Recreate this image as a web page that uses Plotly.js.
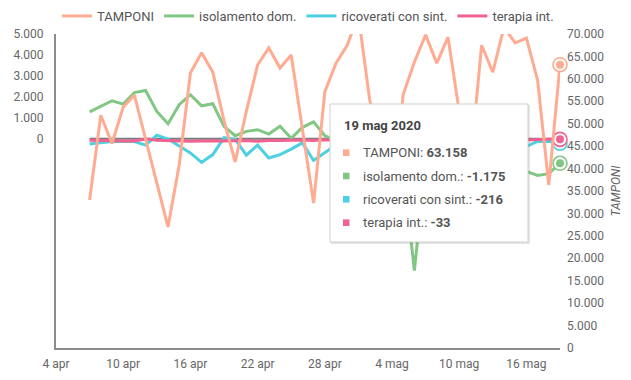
<!DOCTYPE html>
<html>
<head>
<meta charset="utf-8">
<script src="https://cdn.plot.ly/plotly-3.0.1.min.js"></script>
<style>html,body{margin:0;padding:0;background:#fff;}#chart{width:631px;height:380px;}</style>
</head>
<body>
<div id="chart"></div>
<script>
const dates = ['2020-04-07','2020-04-08','2020-04-09','2020-04-10','2020-04-11','2020-04-12','2020-04-13','2020-04-14','2020-04-15','2020-04-16','2020-04-17','2020-04-18','2020-04-19','2020-04-20','2020-04-21','2020-04-22','2020-04-23','2020-04-24','2020-04-25','2020-04-26','2020-04-27','2020-04-28','2020-04-29','2020-04-30','2020-05-01','2020-05-02','2020-05-03','2020-05-04','2020-05-05','2020-05-06','2020-05-07','2020-05-08','2020-05-09','2020-05-10','2020-05-11','2020-05-12','2020-05-13','2020-05-14','2020-05-15','2020-05-16','2020-05-17','2020-05-18','2020-05-19'];
const tamponi = [33000,51900,45600,53700,56400,46600,36800,27000,40800,61300,65800,61500,50700,41500,52800,63100,66900,62400,65300,48800,32300,57100,63500,67500,74200,55400,44900,32200,56500,63750,69800,63500,69300,52800,40800,67500,61500,71500,68000,69100,59700,36300,63158];
const isolamento = [1280,1550,1810,1650,2200,2300,1300,710,1620,2100,1570,1670,590,140,350,430,220,590,20,540,800,140,-100,-500,-300,-900,-700,-1300,-1500,-6300,-1100,-900,-1400,-800,-1200,-1900,-1300,-1600,-1400,-1560,-1760,-1670,-1175];
const ricoverati = [-260,-200,-130,-120,-140,-310,170,-20,-350,-680,-1130,-760,50,-30,-790,-310,-920,-760,-500,-200,-1040,-650,-300,-800,-400,-300,-250,-600,-800,-1000,-500,-700,-400,-300,-100,-900,-500,-400,-600,-350,-130,-130,-216];
const terapia = [-79,-99,-88,-108,-116,-21,-74,-106,-116,-125,-98,-102,-106,-99,-87,-124,-85,-93,-74,-63,-93,-53,-86,-101,-83,-39,-61,-20,-94,-70,-40,-76,-64,-41,-41,-34,-26,-56,-30,-67,-33,-22,-33];
const seriesNames = ['TAMPONI','isolamento dom.','ricoverati con sint.','terapia int.'];
const colors = ['#ffab91','#81c784','#4dd0e1','#f06292'];
const xTickVals = ['2020-04-04','2020-04-10','2020-04-16','2020-04-22','2020-04-28','2020-05-04','2020-05-10','2020-05-16'];
const xTickText = ['4 apr','10 apr','16 apr','22 apr','28 apr','4 mag','10 mag','16 mag'];
const leftTicks = [0,1000,2000,3000,4000,5000];
const rightTicks = [0,5000,10000,15000,20000,25000,30000,35000,40000,45000,50000,55000,60000,65000,70000];
const monthNames = ['gen','feb','mar','apr','mag','giu','lug','ago','set','ott','nov','dic'];

function fmt(v){
  const s = Math.abs(v).toString().replace(/\B(?=(\d{3})+(?!\d))/g,'.');
  return (v<0?'-':'')+s;
}

const values = [tamponi, isolamento, ricoverati, terapia];
const axes = ['y2','y','y','y'];
const traces = [];
values.forEach((arr,i)=>{
  traces.push({x:dates,y:arr,name:seriesNames[i],type:'scatter',mode:'lines',yaxis:axes[i],
    line:{color:colors[i],width:3},hoverinfo:'skip'});
});
const n = dates.length-1;
values.forEach((arr,i)=>{
  traces.push({x:[dates[n]],y:[arr[n]],yaxis:axes[i],type:'scatter',mode:'markers',showlegend:false,hoverinfo:'skip',cliponaxis:false,
    marker:{size:14,color:'rgba(255,255,255,0.9)',line:{color:colors[i],width:1.6}}});
  traces.push({x:[dates[n]],y:[arr[n]],yaxis:axes[i],type:'scatter',mode:'markers',showlegend:false,hoverinfo:'skip',cliponaxis:false,
    marker:{size:8,color:colors[i],line:{width:0}}});
});

const L=56, R=560, T=34, B=348;
const px = v => (v-L)/(R-L);
const py = v => (B-v)/(B-T);

const shapes = [
  {type:'line',xref:'x',yref:'y',x0:dates[0],x1:dates[n],y0:0,y1:0,line:{color:'#7a7a7a',width:2},layer:'below'},
  {type:'rect',xref:'paper',yref:'paper',x0:px(331),x1:px(530),y0:py(244),y1:py(105),fillcolor:'rgba(0,0,0,0.10)',line:{width:0},layer:'above'},
  {type:'rect',xref:'paper',yref:'paper',x0:px(330),x1:px(528),y0:py(242),y1:py(104),fillcolor:'#ffffff',line:{color:'#cfcfcf',width:1},layer:'above'}
];
const rowY = [152.7,176,199.3,222.7];
const d = new Date(dates[n]+'T00:00:00');
const annotations = [{xref:'paper',yref:'paper',x:px(342),y:py(125.5),xanchor:'left',yanchor:'middle',showarrow:false,
  text:'<b>'+d.getDate()+' '+monthNames[d.getMonth()]+' '+d.getFullYear()+'</b>',font:{family:'Roboto',size:13,color:'#444'}}];
values.forEach((arr,i)=>{
  shapes.push({type:'rect',xref:'paper',yref:'paper',x0:px(343),x1:px(349.5),y0:py(rowY[i]+3.3),y1:py(rowY[i]-3.3),fillcolor:colors[i],line:{width:0},layer:'above'});
  annotations.push({xref:'paper',yref:'paper',x:px(361),y:py(rowY[i]),xanchor:'left',yanchor:'middle',showarrow:false,
    text:seriesNames[i]+': <b>'+fmt(arr[n])+'</b>',font:{family:'Roboto',size:13,color:'#555'}});
});

const layout = {
  width:631,height:380,
  margin:{l:56,r:71,t:34,b:32,pad:0,autoexpand:false},
  paper_bgcolor:'#fff',plot_bgcolor:'#fff',
  separators:',.',
  font:{family:'Roboto',size:12,color:'#666'},
  showlegend:true,
  legend:{orientation:'h',x:0.5,xanchor:'center',xref:'paper',y:1-16/380,yanchor:'middle',yref:'container',font:{family:'Roboto',size:13,color:'#555'},bgcolor:'rgba(0,0,0,0)',traceorder:'normal'},
  xaxis:{type:'date',range:['2020-04-04','2020-05-19'],tickvals:xTickVals,ticktext:xTickText,showgrid:false,zeroline:false,
    showline:true,linecolor:'#8c8c8c',linewidth:2,ticks:'',tickfont:{size:12,color:'#666'},ticklabelstandoff:4,fixedrange:true},
  yaxis:{range:[-10000,5000],tickvals:leftTicks,tickformat:',d',showgrid:false,zeroline:false,showline:true,linecolor:'#8c8c8c',linewidth:2,
    ticks:'',tickfont:{size:12,color:'#666'},ticklabelstandoff:8},
  yaxis2:{overlaying:'y',side:'right',range:[0,70000],tickvals:rightTicks,tickformat:',d',showgrid:false,zeroline:false,showline:false,
    ticks:'',tickfont:{size:12,color:'#666'},ticklabelstandoff:6,
    title:{text:'TAMPONI',font:{family:'Roboto',size:12,color:'#666',style:'italic'},standoff:8}},
  shapes:shapes,
  annotations:annotations
};
Plotly.newPlot('chart',traces,layout,{displayModeBar:false,staticPlot:true});
</script>
</body>
</html>
